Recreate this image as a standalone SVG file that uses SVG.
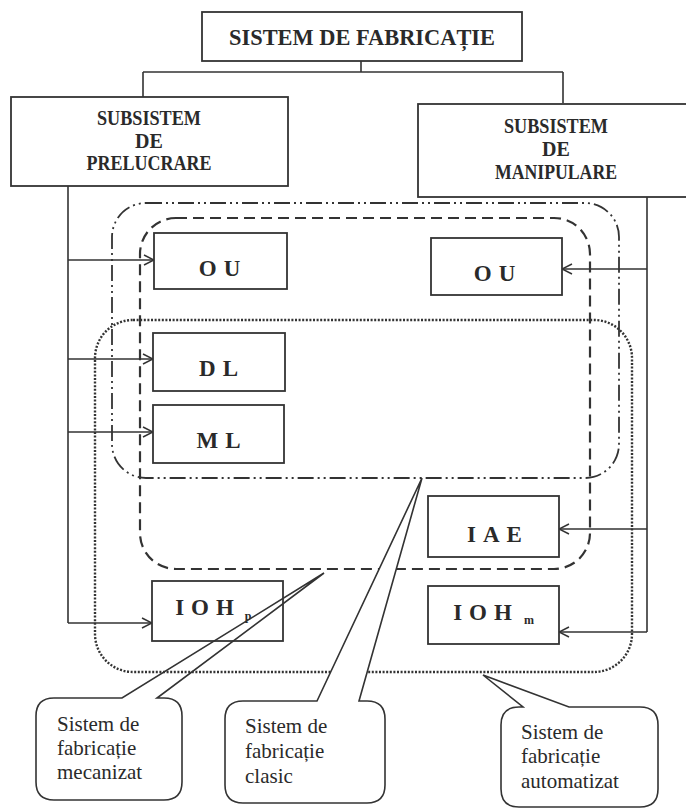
<svg xmlns="http://www.w3.org/2000/svg" width="686" height="808" viewBox="0 0 686 808">
<style>
.box{fill:#fff;stroke:#333;stroke-width:1.8}
.lbl{font-family:"Liberation Serif","Times New Roman",serif;font-weight:bold;fill:#2a2a2a;text-anchor:middle}
.ln{fill:none;stroke:#333;stroke-width:1.6}
.call{fill:#fff;stroke:#333;stroke-width:1.6}
.ct{font-family:"Liberation Serif","Times New Roman",serif;font-size:21px;fill:#2a2a2a}
.dd{fill:none;stroke:#333;stroke-width:1.8;stroke-dasharray:16 4 2 4 2 4}
.da{fill:none;stroke:#333;stroke-width:2.2;stroke-dasharray:11 6}
.dt{fill:none;stroke:#333;stroke-width:2.4;stroke-dasharray:2 1.6}
</style>
<defs>
<marker id="arr" viewBox="0 0 12 12" refX="11" refY="6" markerWidth="12" markerHeight="12" markerUnits="userSpaceOnUse" orient="auto">
<path d="M1,1 L11,6 L1,11" fill="none" stroke="#333" stroke-width="1.5"/>
</marker>
</defs>
<rect width="686" height="808" fill="#fff"/>

<!-- system boundaries -->
<g id="clasic-boundary"><rect class="dd" x="112" y="203" width="507" height="275" rx="34"/></g>
<g id="mecanizat-boundary"><rect class="da" x="140" y="218" width="450" height="351" rx="36"/></g>
<g id="automatizat-boundary"><rect class="dt" x="95" y="320" width="537" height="352" rx="38"/></g>

<g id="connectors">
<path class="ln" d="M361,61 V72 M143,72 H563 M143,72 V97 M563,72 V103"/>
<path class="ln" d="M68,186 V623"/>
<path class="ln" d="M68,260 H154" marker-end="url(#arr)"/>
<path class="ln" d="M68,359 H153" marker-end="url(#arr)"/>
<path class="ln" d="M68,432 H153" marker-end="url(#arr)"/>
<path class="ln" d="M68,623 H152" marker-end="url(#arr)"/>
<path class="ln" d="M647,197 V632"/>
<path class="ln" d="M647,269 H562" marker-end="url(#arr)"/>
<path class="ln" d="M647,529 H559" marker-end="url(#arr)"/>
<path class="ln" d="M647,632 H559" marker-end="url(#arr)"/>
</g>

<g id="title">
<rect class="box" x="202" y="12" width="320" height="49"/>
<text class="lbl" x="362" y="45" font-size="23" textLength="266" lengthAdjust="spacingAndGlyphs">SISTEM DE FABRICAȚIE</text>
</g>
<g id="prelucrare">
<rect class="box" x="11" y="97" width="277" height="89"/>
<text class="lbl" x="149" y="125" font-size="20" textLength="104" lengthAdjust="spacingAndGlyphs">SUBSISTEM</text>
<text class="lbl" x="149" y="148" font-size="20">DE</text>
<text class="lbl" x="149" y="170" font-size="20" textLength="125" lengthAdjust="spacingAndGlyphs">PRELUCRARE</text>
</g>
<g id="manipulare">
<rect class="box" x="418" y="104" width="270" height="93"/>
<text class="lbl" x="556" y="133" font-size="20" textLength="104" lengthAdjust="spacingAndGlyphs">SUBSISTEM</text>
<text class="lbl" x="556" y="156" font-size="20">DE</text>
<text class="lbl" x="556" y="179" font-size="20" textLength="122" lengthAdjust="spacingAndGlyphs">MANIPULARE</text>
</g>
<g id="ou-p">
<rect class="box" x="154" y="233" width="133" height="56"/>
<text class="lbl" x="223" y="276" font-size="23" letter-spacing="7">OU</text>
</g>
<g id="ou-m">
<rect class="box" x="431" y="238" width="131" height="57"/>
<text class="lbl" x="498" y="281" font-size="23" letter-spacing="7">OU</text>
</g>
<g id="dl">
<rect class="box" x="153" y="333" width="132" height="58"/>
<text class="lbl" x="222" y="376" font-size="23" letter-spacing="7">DL</text>
</g>
<g id="ml">
<rect class="box" x="153" y="405" width="131" height="58"/>
<text class="lbl" x="222" y="448" font-size="23" letter-spacing="7">ML</text>
</g>
<g id="iae">
<rect class="box" x="428" y="496" width="131" height="61"/>
<text class="lbl" x="498" y="542" font-size="23" letter-spacing="7">IAE</text>
</g>
<g id="ioh-p">
<rect class="box" x="152" y="581" width="131" height="60"/>
<text class="lbl" x="208" y="615" font-size="23" letter-spacing="7">IOH</text>
<text class="lbl" x="248" y="620" font-size="12">p</text>
</g>
<g id="ioh-m">
<rect class="box" x="428" y="586" width="131" height="58"/>
<text class="lbl" x="486" y="620" font-size="23" letter-spacing="7">IOH</text>
<text class="lbl" x="529" y="624" font-size="12">m</text>
</g>

<g id="callout-mecanizat">
<path class="call" d="M54,698 H122 L324,573 L157,698 H164 Q182,698 182,716 V782 Q182,800 164,800 H54 Q36,800 36,782 V716 Q36,698 54,698 Z" style="fill:none"/>
<text class="ct" x="57" y="731">Sistem de</text>
<text class="ct" x="57" y="755">fabricație</text>
<text class="ct" x="57" y="779">mecanizat</text>
</g>
<g id="callout-clasic">
<path class="call" d="M243,701 H317 L422,478 L359,701 H367 Q385,701 385,719 V785 Q385,803 367,803 H243 Q225,803 225,785 V719 Q225,701 243,701 Z"/>
<text class="ct" x="245" y="733">Sistem de</text>
<text class="ct" x="245" y="758">fabricație</text>
<text class="ct" x="245" y="783">clasic</text>
</g>
<g id="callout-automatizat">
<path class="call" d="M519,707 H523 L483,675 L569,707 H640 Q658,707 658,725 V789 Q658,807 640,807 H519 Q501,807 501,789 V725 Q501,707 519,707 Z"/>
<text class="ct" x="521" y="739">Sistem de</text>
<text class="ct" x="521" y="763">fabricație</text>
<text class="ct" x="521" y="788">automatizat</text>
</g>
</svg>
